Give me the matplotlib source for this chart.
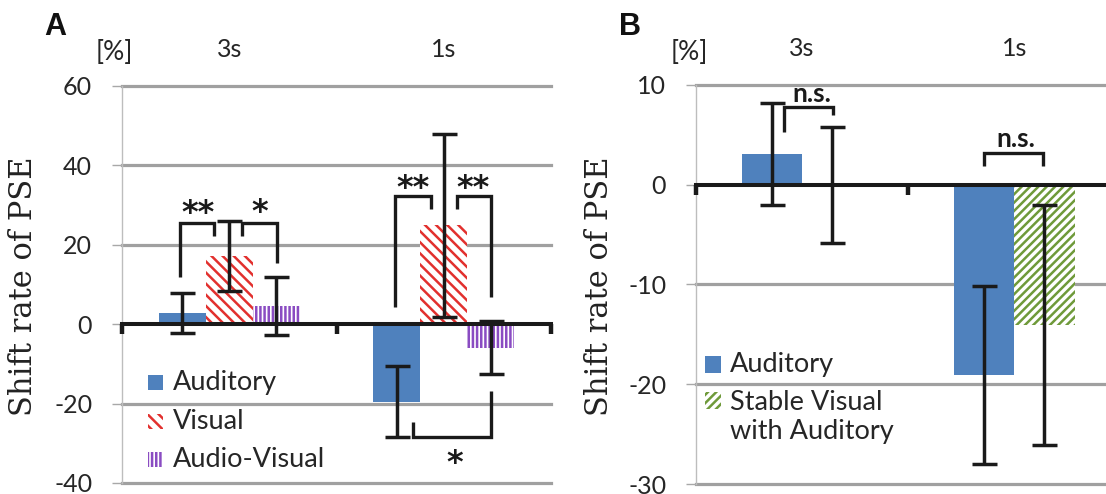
import numpy as np
import matplotlib
matplotlib.use("Agg")
import matplotlib.pyplot as plt
from matplotlib.markers import TICKDOWN
from matplotlib.patches import Rectangle

plt.rcParams["font.family"] = ["Lato", "DejaVu Sans"]
plt.rcParams["axes.unicode_minus"] = False
plt.rcParams["hatch.linewidth"] = 1.8

# ---------------- data ----------------
categories = ["3s", "1s"]

# Panel A: shift rate of PSE [%], mean and error
a_labels = ["Auditory", "Visual", "Audio-Visual"]
a_auditory = [2.8, -19.5]
a_visual = [17.1, 24.9]
a_audiovisual = [4.5, -5.9]
a_auditory_err = [5.1, 9.0]
a_visual_err = [8.8, 23.1]
a_audiovisual_err = [7.3, 6.7]
a_yticks = [-40, -20, 0, 20, 40, 60]

# Panel B
b_labels = ["Auditory", "Stable Visual\nwith Auditory"]
b_auditory = [3.1, -19.1]
b_stable = [0.0, -14.05]
b_auditory_err = [5.1, 8.9]
b_stable_err = [5.8, 12.0]
b_yticks = [-30, -20, -10, 0, 10]

# significance brackets:
# (category, left x, right x, left end, bar level, right end, mark, mark x, mark y)
a_sig = [
    (0, -0.228, -0.070, 11.8, 25.5, 22.1, "**", -0.146, 30.1),
    (0, 0.058, 0.221, 22.1, 25.5, 15.5, "*", 0.140, 30.3),
    (1, -0.227, -0.061, 4.4, 32.4, 29.0, "**", -0.141, 36.4),
    (1, 0.064, 0.219, 29.0, 32.4, 6.9, "**", 0.138, 36.4),
    (1, -0.145, 0.219, -24.7, -28.3, -16.9, "*", 0.050, -32.9),
]
b_sig = [
    (0, -0.085, 0.143, 5.3, 7.8, 7.0, "n.s.", 0.046, 9.0),
    (1, -0.145, 0.136, 1.9, 3.2, 1.9, "n.s.", 0.006, 4.5),
]

# ---------------- styles ----------------
BLUE = "#4F81BD"
RED = "#E2302E"
PURPLE = "#8A4CC2"
GREEN = "#6F9A3A"
GRID = "#A0A0A0"
INK = "#1A1A1A"
TEXT = "#262626"
TICK_FS = 18
LEGEND_FS = 19.5

a_styles = [
    dict(facecolor=BLUE, edgecolor=BLUE, hatch=None),
    dict(facecolor="white", edgecolor=RED, hatch="\\\\\\"),
    dict(facecolor="white", edgecolor=PURPLE, hatch="||||"),
]
b_styles = [
    dict(facecolor=BLUE, edgecolor=BLUE, hatch=None),
    dict(facecolor="white", edgecolor=GREEN, hatch="////"),
]

W, H = 1106, 494
fig = plt.figure(figsize=(W / 100, H / 100), dpi=100)


def px_axes(left, top, right, bottom):
    return fig.add_axes([left / W, 1 - bottom / H, (right - left) / W, (bottom - top) / H])


def draw_panel(ax, series, errs, styles, width, yticks, sig, xlim, bounds):
    n = len(series)
    x = np.arange(len(categories))
    offsets = (np.arange(n) - (n - 1) / 2) * width
    for vals, err, st, off in zip(series, errs, styles, offsets):
        ax.bar(x + off, vals, width, facecolor=st["facecolor"], edgecolor=st["edgecolor"],
               hatch=st["hatch"], linewidth=0, zorder=2)
        ax.errorbar(x + off, vals, yerr=err, fmt="none", ecolor=INK, elinewidth=2.5,
                    capsize=9, capthick=2.5, zorder=5)

    ax.set_xlim(*xlim)
    ax.set_ylim(yticks[0], yticks[-1])
    ax.set_yticks(yticks)
    ax.set_yticklabels([str(t) for t in yticks])
    for t in yticks:
        if t != 0:
            ax.axhline(t, color=GRID, lw=2.3, zorder=0.5, clip_on=False)
    ax.axhline(0, color=INK, lw=2.9, zorder=3, clip_on=False)
    ax.plot(bounds, [0] * len(bounds), ls="none", marker=TICKDOWN, ms=7,
            mew=3.2, color=INK, zorder=3, clip_on=False)

    for side in ("top", "right", "bottom"):
        ax.spines[side].set_visible(False)
    ax.spines["left"].set_color("#BDBDBD")
    ax.spines["left"].set_linewidth(1.0)
    ax.tick_params(axis="y", direction="out", length=7, width=1, color="#A8A8A8",
                   pad=14.5, labelsize=TICK_FS, labelcolor=TEXT)
    ax.xaxis.tick_top()
    ax.set_xticks(x)
    ax.set_xticklabels(categories)
    ax.tick_params(axis="x", length=0, pad=18, labelsize=TICK_FS, labelcolor=TEXT)

    for cat, xl, xr, yl, ym, yr, mark, mx, my in sig:
        ax.plot([cat + xl, cat + xl, cat + xr, cat + xr], [yl, ym, ym, yr], color=INK,
                lw=2.4, solid_joinstyle="miter", solid_capstyle="butt", zorder=4)
        if mark == "n.s.":
            ax.annotate(mark, xy=(cat + mx, my), xytext=(0, -0.26 * 19),
                        textcoords="offset points", ha="center", va="baseline",
                        fontsize=19, fontweight="bold", color=INK)
        else:
            ax.annotate(mark, xy=(cat + mx, my), xytext=(0, -0.55 * 23),
                        textcoords="offset points", ha="center", va="baseline",
                        fontsize=23, fontweight="bold", color=INK,
                        family=["DejaVu Sans"])


def legend_rows(ax, labels, styles, patch_x, patch_w, text_x, rows, fs=LEGEND_FS):
    for lab, st, (py, ty) in zip(labels, styles, rows):
        hp = patch_w * ax.bbox.width / ax.bbox.height
        ax.add_patch(Rectangle((patch_x, py - hp / 2), patch_w, hp, transform=ax.transAxes,
                               facecolor=st["facecolor"], edgecolor=st["edgecolor"],
                               hatch=st["hatch"], linewidth=0, clip_on=False, zorder=6))
        ax.text(text_x, ty, lab, transform=ax.transAxes, ha="left", va="center",
                fontsize=fs, color=TEXT, linespacing=1.2, zorder=6)


# ---------------- panel A ----------------
axA = px_axes(122, 86, 551, 483)
draw_panel(axA, [a_auditory, a_visual, a_audiovisual],
           [a_auditory_err, a_visual_err, a_audiovisual_err],
           a_styles, 0.219, a_yticks, a_sig, (-0.5, 1.5), [-0.5, 0.5, 1.5])
legend_rows(axA, a_labels, a_styles, 0.0606, 0.035, 0.118,
            [(0.252, 0.252), (0.154, 0.154), (0.060, 0.060)])

# ---------------- panel B ----------------
axB = px_axes(696, 85, 1120.6, 484)
draw_panel(axB, [b_auditory, b_stable], [b_auditory_err, b_stable_err],
           b_styles, 0.283, b_yticks, b_sig, (-0.5, 1.5), [-0.5, 0.5])
legend_rows(axB, b_labels, b_styles, 0.0203, 0.0386, 0.080,
            [(0.2995, 0.2995), (0.209, 0.169)])

# ---------------- labels ----------------
for x_lab, x_pct, x_letter, letter in [(24, 114, 55, "A"), (600, 689, 630, "B")]:
    fig.text(x_lab / W, 1 - 286 / H, "Shift rate of PSE", rotation=90, ha="center",
             va="center", fontsize=22, family=["DejaVu Serif"], color="#222222")
    fig.text(x_pct / W, 1 - 53 / H, "[%]", ha="center", va="center", fontsize=19,
             color=TEXT)
    fig.text(x_letter / W, 1 - 27 / H, letter, ha="center", va="center", fontsize=22,
             fontweight="bold", family=["Liberation Sans", "DejaVu Sans"], color="#111111")

fig.savefig("out.png", dpi=100)
